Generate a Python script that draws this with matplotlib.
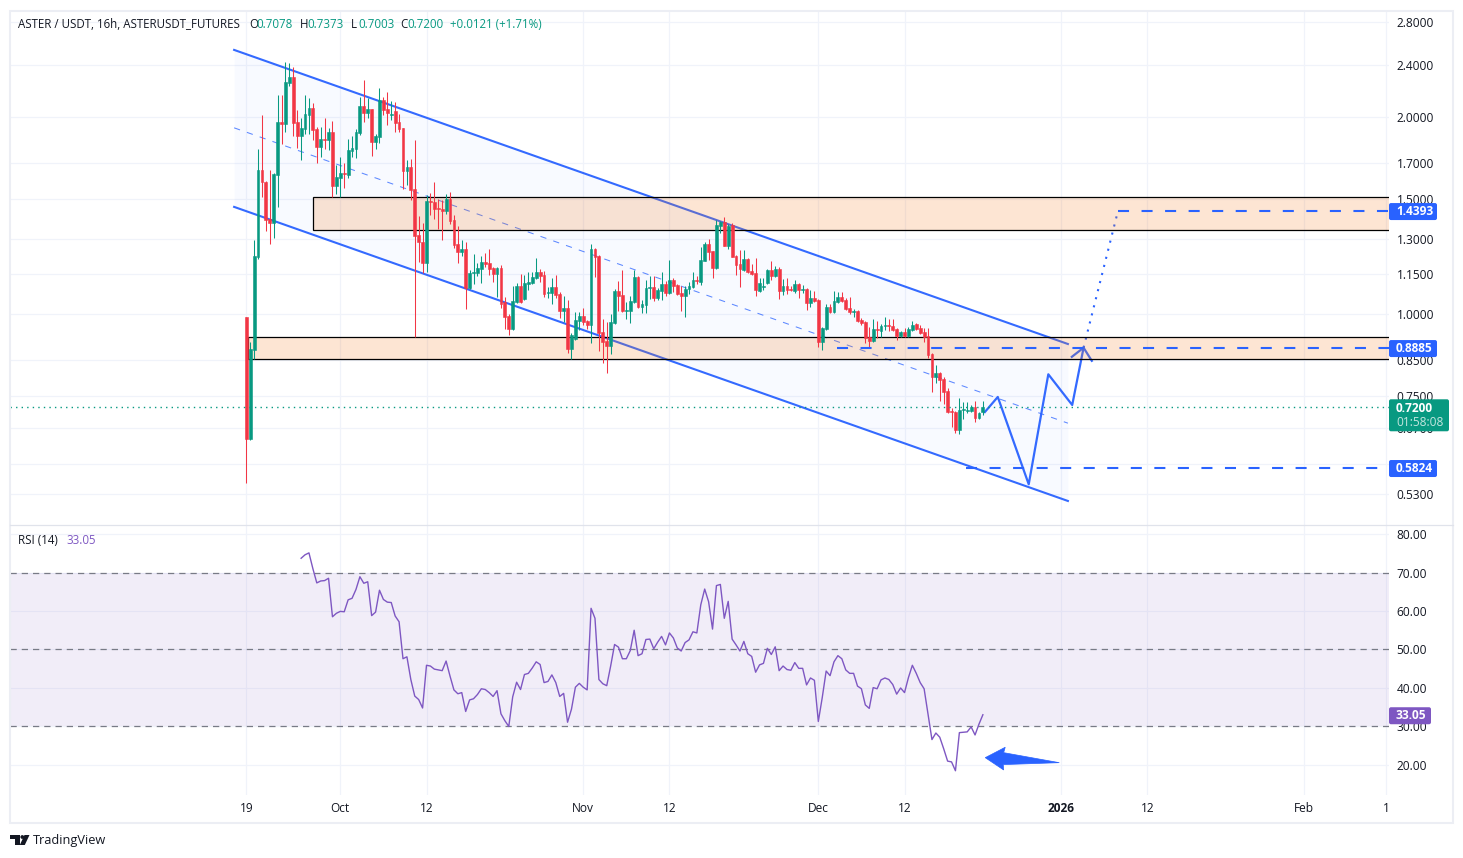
import matplotlib
matplotlib.use('Agg')
import matplotlib.pyplot as plt
from matplotlib.patches import Rectangle, FancyBboxPatch, Polygon, Circle
from matplotlib.transforms import IdentityTransform

plt.rcParams['font.family'] = ['Open Sans', 'DejaVu Sans']

# open, high, low, close, one row per 16h bar (index 0 = Sep 19)
opens = [
    .989, .645, .881, 1.224, 1.661, 1.592, 1.397, 1.379, 1.631, 1.966, 1.952, 2.252, 2.305, 1.966, 1.871, 1.919,
    2.016, 2.066, 1.919, 1.800, 1.853, 1.846, 1.899, 1.569, 1.615, 1.644, 1.631, 1.776, 1.788, 1.892, 2.081, 2.030,
    2.059, 1.833, 1.864, 2.124, 2.059, 2.012, 2.044, 1.966, 1.926, 1.655, 1.679, 1.553, 1.321, 1.289, 1.197, 1.488,
    1.483, 1.452, 1.447, 1.437, 1.500, 1.392, 1.279, 1.244, 1.257, 1.096, 1.155, 1.155, 1.172, 1.201, 1.197, 1.176,
    1.151, 1.176, 1.043, .993, .949, 1.043, 1.103, 1.054, 1.111, 1.115, 1.135, 1.159, 1.147, 1.077, 1.077, 1.099,
    1.073, 1.011, 1.021, .884, .915, .975, .993, .975, .962, 1.257, 1.227, .938, .909, .893, .969, 1.084,
    1.069, 1.011, 1.011, 1.043, 1.139, 1.025, 1.032, 1.096, 1.099, 1.058, 1.084, 1.111, 1.077, 1.127, 1.107, 1.077,
    1.065, 1.092, 1.099, 1.127, 1.119, 1.205, 1.279, 1.248, 1.176, 1.363, 1.383, 1.270, 1.368, 1.227, 1.193, 1.168,
    1.214, 1.163, 1.155, 1.084, 1.100, 1.115, 1.168, 1.143, 1.172, 1.084, 1.103, 1.092, 1.084, 1.111, 1.088, 1.092,
    1.040, 1.058, 1.051, .906, .949, 1.025, 1.007, 1.043, 1.061, 1.051, 1.021, 1.007, 1.011, .979, .972, .922,
    .909, .949, .942, .959, .962, .959, .949, .925, .938, .925, .945, .965, .952, .938, .925, .869,
    .801, .812, .795, .762, .710, .708, .664, .713, .711, .711, .720, .693, .7078]
highs = [
    .989, .906, 1.298, 1.788, 2.016, 1.597, 1.661, 1.644, 2.162, 2.162, 2.427, 2.419, 2.387, 2.051, 1.995, 2.162,
    2.139, 2.102, 1.933, 1.933, 1.995, 1.926, 1.973, 1.690, 1.738, 1.702, 1.853, 1.871, 1.919, 2.146, 2.279, 2.139,
    2.059, 1.885, 2.215, 2.146, 2.186, 2.116, 2.109, 2.022, 1.926, 1.720, 1.726, 1.846, 1.412, 1.378, 1.521, 1.532,
    1.592, 1.500, 1.494, 1.526, 1.537, 1.417, 1.363, 1.298, 1.289, 1.168, 1.235, 1.197, 1.227, 1.240, 1.257, 1.180,
    1.180, 1.188, 1.061, 1.000, 1.103, 1.115, 1.151, 1.147, 1.159, 1.159, 1.218, 1.170, 1.163, 1.100, 1.135, 1.147,
    1.080, 1.065, 1.051, .935, 1.007, 1.007, 1.021, .980, 1.279, 1.260, 1.230, .982, .972, 1.000, 1.092, 1.123,
    1.168, 1.043, 1.065, 1.168, 1.143, 1.051, 1.127, 1.143, 1.143, 1.096, 1.159, 1.123, 1.209, 1.135, 1.111, 1.103,
    1.103, 1.119, 1.159, 1.143, 1.266, 1.289, 1.302, 1.250, 1.392, 1.387, 1.407, 1.373, 1.378, 1.230, 1.253, 1.253,
    1.217, 1.193, 1.218, 1.135, 1.135, 1.172, 1.205, 1.185, 1.180, 1.131, 1.135, 1.103, 1.127, 1.115, 1.107, 1.096,
    1.088, 1.084, 1.054, .956, 1.036, 1.036, 1.084, 1.080, 1.080, 1.058, 1.061, 1.018, 1.014, .986, .975, .955,
    .982, .975, .965, .989, .982, .982, .952, .942, .952, .955, .975, .969, .962, .952, .952, .872,
    .836, .815, .800, .771, .718, .710, .744, .733, .733, .726, .736, .707, .7373]
lows = [
    .552, .642, .853, 1.215, 1.511, 1.341, 1.279, 1.308, 1.459, 1.819, 1.901, 2.230, 1.871, 1.795, 1.720, 1.885,
    1.885, 1.846, 1.702, 1.738, 1.788, 1.782, 1.510, 1.526, 1.510, 1.559, 1.615, 1.738, 1.732, 1.878, 1.966, 1.995,
    1.745, 1.788, 1.826, 2.016, 1.945, 1.981, 1.899, 1.899, 1.553, 1.575, 1.494, .922, 1.202, 1.155, 1.160, 1.417,
    1.397, 1.349, 1.298, 1.422, 1.373, 1.262, 1.197, 1.227, 1.018, 1.092, 1.111, 1.143, 1.115, 1.180, 1.147, 1.119,
    1.061, 1.021, .949, .929, .945, 1.040, 1.040, 1.051, 1.088, 1.111, 1.131, 1.119, 1.061, 1.058, 1.036, 1.058,
    .986, .972, .872, .853, .912, .945, .962, .949, .903, 1.139, .878, .841, .812, .868, .965, 1.011,
    1.007, .982, .969, 1.040, 1.021, 1.004, 1.004, 1.054, 1.047, 1.051, 1.051, 1.065, 1.073, 1.080, 1.069, 1.011,
    .989, 1.073, 1.096, 1.111, 1.107, 1.205, 1.209, 1.135, 1.172, 1.330, 1.270, 1.257, 1.222, 1.147, 1.099, 1.165,
    1.155, 1.147, 1.065, 1.080, 1.088, 1.111, 1.127, 1.140, 1.054, 1.069, 1.073, 1.084, 1.077, 1.058, 1.077, 1.014,
    1.025, 1.043, .890, .881, .945, 1.004, 1.004, 1.040, 1.043, 1.014, 1.000, .989, .972, .962, .903, .890,
    .906, .919, .922, .945, .942, .942, .912, .922, .922, .922, .942, .945, .932, .906, .857, .760,
    .784, .736, .728, .706, .672, .657, .655, .691, .706, .708, .683, .691, .7003]
closes = [
    .645, .884, 1.227, 1.661, 1.589, 1.392, 1.379, 1.638, 1.966, 1.952, 2.263, 2.305, 1.959, 1.871, 1.925, 2.022,
    2.066, 1.912, 1.800, 1.853, 1.846, 1.899, 1.569, 1.620, 1.644, 1.638, 1.782, 1.795, 1.899, 2.081, 2.030, 2.059,
    1.833, 1.871, 2.124, 2.051, 2.030, 2.022, 1.959, 1.919, 1.655, 1.679, 1.548, 1.318, 1.287, 1.197, 1.488, 1.483,
    1.447, 1.447, 1.437, 1.500, 1.387, 1.275, 1.244, 1.257, 1.096, 1.155, 1.159, 1.176, 1.201, 1.193, 1.172, 1.151,
    1.176, 1.036, .989, .949, 1.047, 1.103, 1.043, 1.115, 1.118, 1.139, 1.159, 1.143, 1.073, 1.081, 1.099, 1.069,
    1.011, 1.021, .884, .929, .979, .993, .972, .962, 1.257, 1.222, .935, .906, .893, .972, 1.084, 1.065,
    1.011, 1.014, 1.047, 1.139, 1.025, 1.036, 1.096, 1.099, 1.058, 1.088, 1.111, 1.077, 1.127, 1.103, 1.073, 1.065,
    1.092, 1.103, 1.127, 1.123, 1.209, 1.279, 1.244, 1.176, 1.368, 1.383, 1.270, 1.363, 1.222, 1.188, 1.172, 1.214,
    1.159, 1.151, 1.088, 1.115, 1.103, 1.168, 1.143, 1.172, 1.084, 1.103, 1.088, 1.088, 1.111, 1.088, 1.092, 1.040,
    1.058, 1.047, .906, .952, 1.025, 1.007, 1.047, 1.061, 1.047, 1.018, 1.007, 1.011, .975, .969, .919, .909,
    .949, .945, .959, .962, .959, .945, .925, .938, .925, .949, .962, .949, .935, .922, .866, .801,
    .812, .793, .760, .708, .708, .664, .713, .716, .713, .720, .693, .705, .7200]

# RSI starts on bar 14
rsi_start = 14
rsi = [
    73.7, 74.6, 75.1, 71.0, 67.3, 67.8, 67.9, 68.5, 58.5, 59.4, 59.9, 59.8, 62.9, 63.3, 65.6, 68.9, 67.2, 67.6,
    58.8, 59.7, 65.4, 63.0, 62.3, 62.2, 58.7, 57.2, 47.6, 48.1, 42.2, 37.9, 37.0, 34.8, 45.9, 45.7, 44.9, 44.7,
    44.5, 47.0, 43.1, 39.5, 38.5, 38.8, 33.9, 36.9, 37.2, 38.3, 39.8, 39.6, 38.8, 37.8, 39.3, 33.3, 31.5, 30.0,
    37.7, 41.5, 39.6, 43.5, 43.8, 45.2, 46.8, 46.1, 41.4, 41.7, 43.4, 41.4, 37.8, 38.6, 31.1, 34.5, 40.2, 41.2,
    40.2, 39.5, 60.7, 58.1, 42.2, 41.1, 40.6, 45.7, 51.3, 50.6, 47.6, 47.6, 49.7, 55.0, 48.4, 48.9, 52.6, 52.7,
    50.2, 51.9, 53.4, 51.2, 54.3, 53.0, 50.4, 49.6, 51.8, 52.5, 54.6, 54.3, 61.6, 65.7, 62.4, 55.3, 66.6, 66.9,
    58.1, 62.5, 52.7, 51.2, 49.6, 52.1, 48.9, 48.2, 44.1, 46.0, 46.4, 50.3, 48.7, 50.7, 44.5, 45.7, 44.8, 44.6,
    46.6, 45.1, 45.1, 40.8, 42.6, 42.0, 31.3, 37.5, 44.4, 43.2, 46.8, 48.4, 47.6, 44.7, 43.8, 43.8, 40.5, 39.8,
    35.6, 34.7, 40.1, 39.8, 42.1, 42.6, 42.2, 40.9, 38.4, 40.0, 38.8, 42.7, 45.9, 43.8, 41.4, 39.8, 33.2, 26.6,
    28.3, 27.2, 24.2, 21.0, 20.8, 18.5, 28.4, 28.5, 28.6, 29.9, 27.8, 30.6, 33.05]

# axis ticks, 0.59 sits behind the 0.5824 tag so it has a gridline but no label
price_ticks = [2.8, 2.4, 2.0, 1.7, 1.5, 1.3, 1.15, 1.0, .85, .75, .67, .59, .53]
price_labels = ['2.8000', '2.4000', '2.0000', '1.7000', '1.5000', '1.3000', '1.1500', '1.0000', '0.8500', '0.7500',
                '0.6700', '', '0.5300']
rsi_ticks = [80, 70, 60, 50, 40, 30, 20]
time_pos = [0, 24, 46, 86, 108, 146, 168, 208, 230, 270, 291]
time_labels = ['19', 'Oct', '12', 'Nov', '12', 'Dec', '12', '2026', '12', 'Feb', '1']

# drawings on the chart, (bar, price)
channel_upper = ([-3.1, 209.7], [2.534, .8997])
channel_lower = ([-3.1, 209.7], [1.458, .5177])
channel_mid = ([-3.1, 209.7], [1.926, .6808])
zone_high = (17, 1.346, 1.510)
zone_low = (.5, .853, .922)
path_bars = [188.5, 191.8, 199.7, 204.7, 210.8, 213.7]
path_prices = [.708, .7467, .549, .8087, .7258, .888]
wing_bars = [210.7, 213.7, 215.8]
wing_prices = [.860, .888, .848]
dotted_bars = [213.7, 222.5]
dotted_prices = [.888, 1.4393]
levels = [(1.4393, 222.5), (.8885, 150.8), (.5824, 183.7)]
rsi_arrow = [(188.6, 21.9), (193.7, 24.6), (193.3, 23.2), (207.5, 20.6), (193.2, 20.1), (193.3, 18.7)]

RED = '#f23645'
GREEN = '#089981'
BLUE = '#2962ff'
PURPLE = '#7e57c2'
TEXT = '#131722'
GRID = '#f0f3fa'

W, H = 1463, 858
fig = plt.figure(figsize=(W / 100, H / 100), dpi=100)
fig.patch.set_facecolor('white')


def pane(x0, y0, x1, y1):
    return fig.add_axes([x0 / W, 1 - y1 / H, (x1 - x0) / W, (y1 - y0) / H])


ax = pane(10, 11, 1389, 525)
ax_rsi = pane(10, 525, 1389, 795)
xmin, xmax = -60.3, 291.65

for a in (ax, ax_rsi):
    a.set_xlim(xmin, xmax)
    for s in a.spines.values():
        s.set_visible(False)
    a.yaxis.tick_right()
    a.tick_params(length=0, labelsize=8.6, labelcolor=TEXT, pad=5.5)
    a.set_xticks(time_pos)
    a.grid(True, color=GRID, lw=.9)
    a.set_axisbelow(True)

# price pane
ax.set_yscale('log')
ax.set_ylim(.4757, 2.906)
ax.set_yticks(price_ticks)
ax.set_yticklabels(price_labels)
ax.minorticks_off()
ax.tick_params(labelbottom=False)

bars = list(range(len(opens)))
ax.fill_between(channel_upper[0], channel_upper[1], channel_lower[1], color=BLUE, alpha=.03, lw=0, zorder=1.5)
ax.plot(*channel_upper, color=BLUE, lw=1.5, alpha=.95, zorder=2)
ax.plot(*channel_lower, color=BLUE, lw=1.5, alpha=.95, zorder=2)
ax.plot(*channel_mid, color=BLUE, lw=.75, alpha=.75, dashes=(6, 7), zorder=2)
ax.plot(path_bars, path_prices, color=BLUE, lw=1.6, alpha=.95, zorder=2.2)
ax.plot(wing_bars, wing_prices, color=BLUE, lw=1.6, alpha=.95, zorder=2.2)
ax.plot(dotted_bars, dotted_prices, color=BLUE, lw=1.5, dashes=(1, 3), zorder=2.2)

for left, lo, hi in (zone_high, zone_low):
    ax.add_patch(Rectangle((left, lo), xmax + 20 - left, hi - lo, facecolor=(245 / 255, 125 / 255, 35 / 255, .2),
                           edgecolor='black', lw=.9, zorder=3))

colors = [GREEN if c >= o else RED for o, c in zip(opens, closes)]
ax.vlines(bars, lows, highs, colors=colors, lw=.75, zorder=4)
ax.bar(bars, [abs(c - o) for o, c in zip(opens, closes)], bottom=[min(o, c) for o, c in zip(opens, closes)],
       width=.72, color=colors, edgecolor=colors, lw=.4, zorder=4.1)

ax.axhline(closes[-1], color=GREEN, lw=1, dashes=(1, 3), zorder=4.2)
for price, start in levels:
    ax.plot([start, xmax], [price, price], color=BLUE, lw=1.5, dashes=(5.3, 6), zorder=4.3)

# rsi pane
ax_rsi.set_ylim(12.2, 82.34)
ax_rsi.set_yticks(rsi_ticks)
ax_rsi.set_yticklabels([f'{v:.2f}' for v in rsi_ticks])
ax_rsi.set_xticklabels(time_labels)
ax_rsi.tick_params(axis='x', pad=5)
ax_rsi.get_xticklabels()[7].set_fontweight('bold')
ax_rsi.axhspan(30, 70, color=PURPLE, alpha=.1, lw=0, zorder=1)
for level in (70, 50, 30):
    ax_rsi.axhline(level, color='#787b86', lw=.9, dashes=(5, 4), zorder=2)
ax_rsi.plot(range(rsi_start, rsi_start + len(rsi)), rsi, color=PURPLE, lw=1, zorder=3)
ax_rsi.add_patch(Polygon(rsi_arrow, closed=True, facecolor=BLUE, edgecolor=BLUE, lw=.5, zorder=4))

# outer frame and pane separator
fig.add_artist(Rectangle((10, H - 823), 1443, 812, transform=IdentityTransform(), fill=False, edgecolor='#eceef4', lw=1.5))
fig.add_artist(plt.Line2D([10, 1453], [H - 525, H - 525], transform=IdentityTransform(), color='#e0e3eb', lw=.9))


def badge(axis, value, label, width, color=BLUE, height=17):
    y = axis.transData.transform((0, value))[1] - 1
    fig.add_artist(FancyBboxPatch((1389, y - height / 2), width, height, boxstyle='round,pad=0,rounding_size=2',
                                  transform=IdentityTransform(), facecolor=color, edgecolor='none', zorder=5))
    fig.text(1396 / W, y / H, label, color='white', fontsize=8.6, fontweight='bold', va='center', zorder=6)


badge(ax, 1.4393, '1.4393', 48)
badge(ax, .8885, '0.8885', 48)
badge(ax, .5824, '0.5824', 48)
badge(ax_rsi, rsi[-1], '33.05', 42, PURPLE)

y_last = ax.transData.transform((0, closes[-1]))[1] - 1
fig.add_artist(FancyBboxPatch((1389, y_last - 23), 60, 32, boxstyle='round,pad=0,rounding_size=2',
                              transform=IdentityTransform(), facecolor=GREEN, edgecolor='none', zorder=5))
fig.text(1396 / W, y_last / H, '0.7200', color='white', fontsize=8.6, fontweight='bold', va='center', zorder=6)
fig.text(1396 / W, (y_last - 14.5) / H, '01:58:08', color='#c4e6df', fontsize=8.6, va='center', zorder=6)

# legends
legend = [(18, 'ASTER / USDT, 16h, ASTERUSDT_FUTURES', TEXT), (249, 'O', TEXT), (256, '0.7078', GREEN), (300, 'H', TEXT),
          (307, '0.7373', GREEN), (351, 'L', TEXT), (358, '0.7003', GREEN), (400, 'C', TEXT), (407, '0.7200', GREEN),
          (450, '+0.0121 (+1.71%)', GREEN)]
for x, s, c in legend:
    fig.text(x / W, 1 - 25 / H, s, color=c, fontsize=8.3, va='center')
fig.text(18 / W, 1 - 540.5 / H, 'RSI (14)', color=TEXT, fontsize=8.3, va='center')
fig.text(66 / W, 1 - 540.5 / H, '33.05', color=PURPLE, fontsize=8.3, va='center')

# TradingView mark
logo = dict(transform=IdentityTransform(), facecolor=TEXT, edgecolor='none')
fig.add_artist(Rectangle((10, H - 839), 9.5, 4, **logo))
fig.add_artist(Rectangle((14.5, H - 845), 5, 7, **logo))
fig.add_artist(Circle((22.3, H - 837), 1.9, **logo))
fig.add_artist(Polygon([(19.8, H - 845), (24.5, H - 835), (29.5, H - 835), (24.8, H - 845)], **logo))
fig.text(33 / W, 1 - 840.5 / H, 'TradingView', color=TEXT, fontsize=9.2, va='center')

fig.savefig('out.png', dpi=100)
